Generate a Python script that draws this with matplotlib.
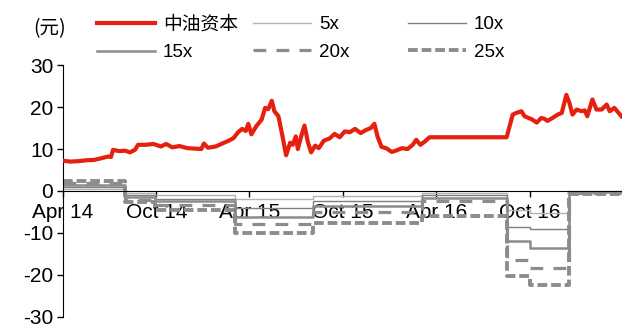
import pandas as pd
import matplotlib.pyplot as plt
import matplotlib.dates as mdates
import matplotlib

# 字体
matplotlib.rcParams['font.family'] = ['Liberation Sans', 'Noto Sans CJK SC']
matplotlib.rcParams['axes.unicode_minus'] = False

# 中油资本 股价
price_dates = [
    '2014-04-01', '2014-04-15', '2014-05-01', '2014-05-15', '2014-06-01', '2014-06-15',
    '2014-06-28', '2014-07-04', '2014-07-08', '2014-07-20', '2014-08-01', '2014-08-10',
    '2014-08-20', '2014-08-26', '2014-09-10', '2014-09-25', '2014-10-10', '2014-10-20',
    '2014-11-01', '2014-11-15', '2014-12-01', '2014-12-15', '2014-12-28', '2015-01-02',
    '2015-01-10', '2015-01-25', '2015-02-05', '2015-02-20', '2015-03-01', '2015-03-10',
    '2015-03-18', '2015-03-25', '2015-03-30', '2015-04-05', '2015-04-15', '2015-04-25',
    '2015-05-02', '2015-05-08', '2015-05-15', '2015-05-20', '2015-05-28', '2015-06-05',
    '2015-06-12', '2015-06-20', '2015-06-25', '2015-07-01', '2015-07-05', '2015-07-12',
    '2015-07-18', '2015-07-25', '2015-07-31', '2015-08-08', '2015-08-15', '2015-08-25',
    '2015-09-05', '2015-09-15', '2015-09-25', '2015-10-05', '2015-10-15', '2015-10-25',
    '2015-11-05', '2015-11-15', '2015-11-25', '2015-12-02', '2015-12-08', '2015-12-16',
    '2015-12-25', '2016-01-05', '2016-01-15', '2016-01-25', '2016-02-05', '2016-02-15',
    '2016-02-22', '2016-03-01', '2016-03-10', '2016-03-19', '2016-08-17', '2016-08-23',
    '2016-08-29', '2016-09-05', '2016-09-15', '2016-09-21', '2016-09-27', '2016-10-05',
    '2016-10-15', '2016-10-24', '2016-10-30', '2016-11-05', '2016-11-15', '2016-11-25',
    '2016-12-03', '2016-12-08', '2016-12-12', '2016-12-18', '2016-12-24', '2017-01-01',
    '2017-01-11', '2017-01-17', '2017-01-22', '2017-02-01', '2017-02-09', '2017-02-19',
    '2017-03-01', '2017-03-07', '2017-03-16', '2017-03-30',
]
price_values = [
    7.2, 7.0, 7.1, 7.3, 7.4, 7.8,
    8.2, 8.1, 9.8, 9.5, 9.6, 9.2,
    9.8, 11.0, 11.0, 11.2, 10.6, 11.2,
    10.4, 10.7, 10.2, 10.1, 10.0, 11.3,
    10.3, 10.6, 11.2, 12.0, 12.6, 14.0,
    14.8, 14.3, 16.0, 13.5, 15.5, 17.0,
    19.8, 19.5, 21.5, 19.0, 17.8, 13.0,
    8.5, 11.5, 11.0, 13.0, 10.0, 13.2,
    15.6, 11.5, 9.2, 10.8, 10.2, 12.0,
    12.5, 13.6, 12.8, 14.2, 14.0, 14.8,
    13.8, 14.5, 15.0, 16.0, 13.0, 10.5,
    10.2, 9.3, 9.7, 10.2, 10.0, 11.0,
    12.2, 11.0, 11.8, 12.8, 12.8, 15.5,
    18.2, 18.6, 19.0, 17.8, 17.5, 17.1,
    16.3, 17.4, 17.2, 16.7, 17.4, 18.2,
    18.6, 21.0, 22.9, 21.0, 18.2, 19.4,
    19.0, 19.2, 17.8, 21.8, 19.4, 19.4,
    20.6, 19.0, 19.8, 17.8,
]

# 不同倍数的收益(阶梯)
step_dates = ['2014-04-01', '2014-07-31', '2014-09-28', '2015-03-04', '2015-08-03',
              '2016-03-05', '2016-08-17', '2016-10-01', '2016-12-18', '2017-03-30']
ret_5x = [0.5, -0.5, -1.0, -1.9, -1.1, -0.5, -4.5, -5.3, -0.1]
ret_10x = [1.0, -1.0, -1.8, -4.0, -2.3, -1.0, -8.5, -9.1, -0.2]
ret_15x = [1.4, -1.5, -2.5, -6.1, -3.5, -1.6, -12.0, -13.5, -0.35]
ret_20x = [1.9, -2.1, -3.3, -7.8, -5.0, -2.4, -16.4, -18.3, -0.5]
ret_25x = [2.4, -2.6, -4.5, -10.1, -7.6, -6.0, -20.3, -22.5, -0.7]

tick_dates = ['2014-04-01', '2014-10-01', '2015-04-01', '2015-10-01', '2016-04-01', '2016-10-01']

fig = plt.figure(figsize=(6.22, 3.27), dpi=100)
ax = fig.add_axes([0.1013, 0.031, 0.8987, 0.770])

pd_dates = pd.to_datetime(price_dates)
sd = pd.to_datetime(step_dates)

h_price, = ax.plot(pd_dates, price_values, color='#e6200e', lw=3, label='中油资本', zorder=5)

styles = [
    ('5x', ret_5x, dict(color='#b3b3b3', lw=1.0)),
    ('10x', ret_10x, dict(color='#7f7f7f', lw=1.0)),
    ('15x', ret_15x, dict(color='#8c8c8c', lw=1.8)),
    ('20x', ret_20x, dict(color='#8c8c8c', lw=2.3, linestyle=(0, (4.0, 3.2)))),
    ('25x', ret_25x, dict(color='#8c8c8c', lw=2.8, linestyle=(0, (2.5, 1.0)))),
]
handles = {}
for name, vals, kw in styles:
    h, = ax.plot(sd, vals + [vals[-1]], drawstyle='steps-post', label=name, **kw)
    handles[name] = h

ax.set_xlim(pd.Timestamp('2014-04-01'), pd.Timestamp('2017-03-31'))
ax.set_ylim(-30, 30)
ax.set_yticks([-30, -20, -10, 0, 10, 20, 30])
ax.set_xticks(pd.to_datetime(tick_dates))
ax.xaxis.set_major_formatter(mdates.DateFormatter('%b %y'))

ax.spines['top'].set_visible(False)
ax.spines['right'].set_visible(False)
ax.spines['bottom'].set_position(('data', 0))
ax.tick_params(axis='both', direction='out', length=4, width=1, labelsize=15, colors='black')
ax.tick_params(axis='x', pad=5)
ax.tick_params(axis='y', pad=3)

fig.text(0.080, 0.912, '(元)', fontsize=14, ha='center', va='center',
         family=['Noto Sans CJK SC'])

# 图例: 三列分别放置
cols = [(0.156, [h_price, handles['15x']]),
        (0.407, [handles['5x'], handles['20x']]),
        (0.656, [handles['10x'], handles['25x']])]
for x0, hs in cols:
    leg = fig.legend(handles=hs, loc='upper left', bbox_to_anchor=(x0, 0.95),
                     frameon=False, borderpad=0, borderaxespad=0, handlelength=3.1,
                     handletextpad=0.4, labelspacing=0.55, fontsize=13.5)

fig.savefig('out.png', dpi=100)
